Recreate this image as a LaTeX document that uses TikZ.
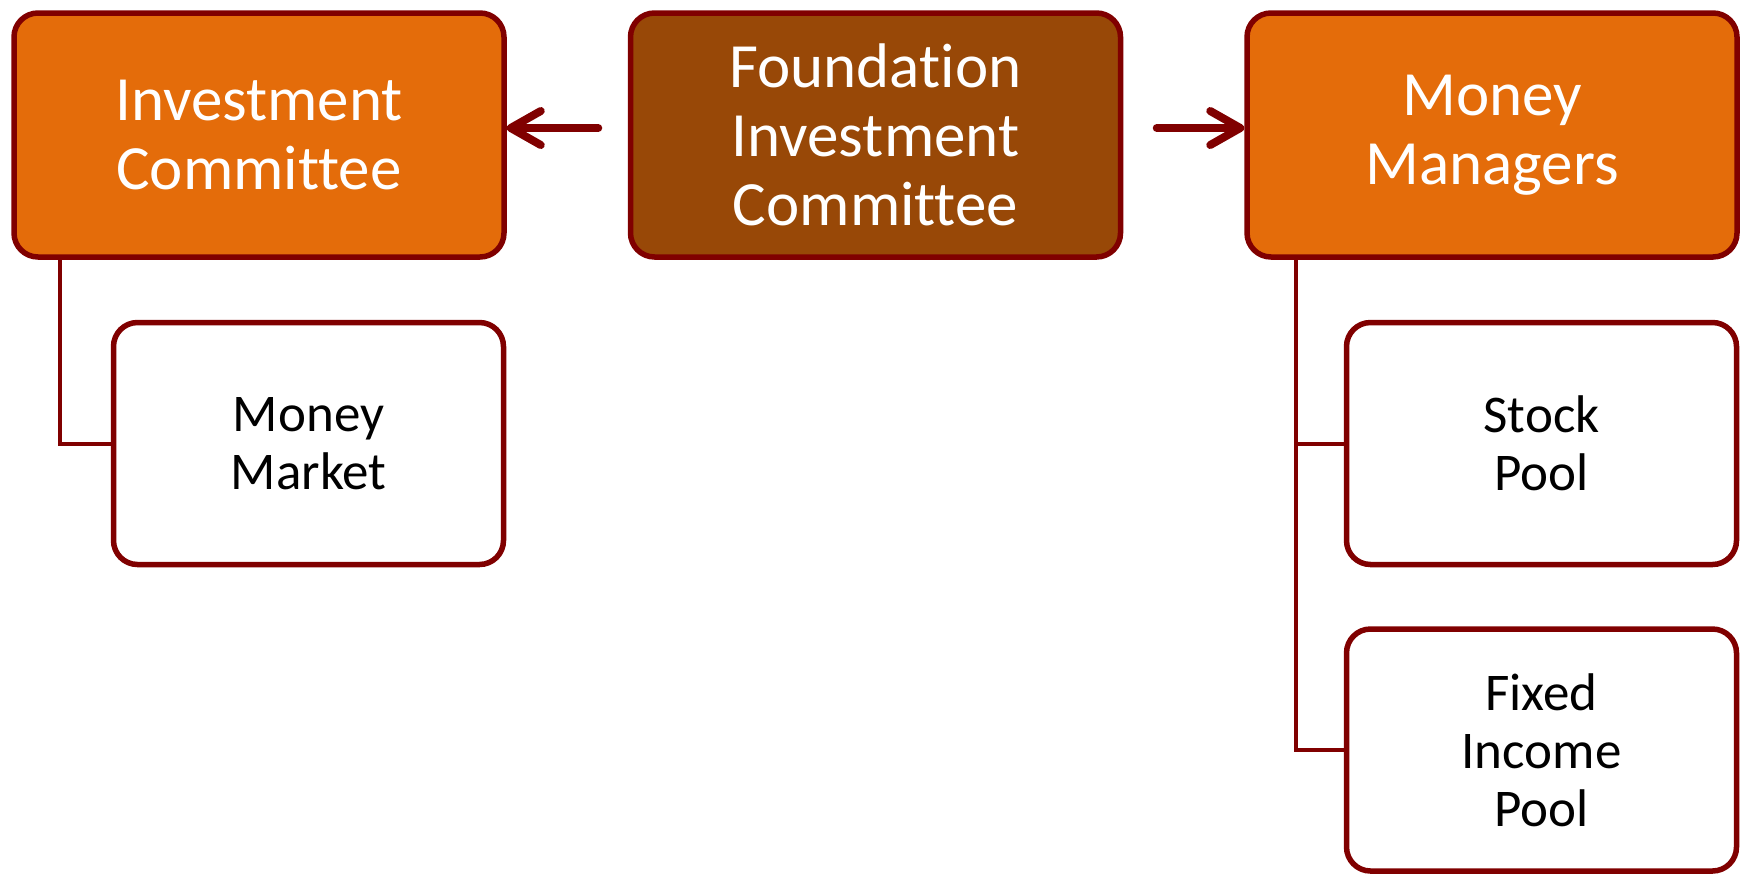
\documentclass[tikz,border=0pt]{standalone}
\usepackage{fontspec}
\setmainfont{Carlito}[Ligatures=NoCommon]
\usetikzlibrary{arrows.meta}
\definecolor{boxorange}{HTML}{E46C0A}
\definecolor{boxbrown}{HTML}{984807}
\definecolor{boxred}{HTML}{800000}

\begin{document}
\begin{tikzpicture}[x=0.5pt, y=-0.5pt, node distance={308.25pt},
  main/.style = {draw=boxred, line width=2.75pt, rounded corners=12pt, fill=boxorange, text=white, minimum width=245pt, minimum height=122pt, align=center, inner sep=0pt, font=\fontsize{31.5}{34.5}\selectfont},
  head/.style = {main, fill=boxbrown},
  kid/.style = {draw=boxred, line width=2.75pt, rounded corners=12pt, fill=white, minimum width=195pt, minimum height=121pt, align=center, inner sep=0pt, font=\fontsize{26.5}{29}\selectfont},
  link/.style = {draw=boxred, line width=2pt},
  arr/.style = {draw=boxred, line width=4pt, line cap=round, -{Straight Barb[length=15pt, width=17pt, round]}}]
                \useasboundingbox (0,0) rectangle (1744,874);
                \node[main] (ic) at (259,135) {Investment\\Committee};
                \node[head] (fic) [right of=ic] {Foundation\\Investment\\Committee};
                \node[main] (mm) [right of=fic] {Money\\Managers};
                \node[kid] (c0) at (308.5,443.5) {Money\\Market};
                \node[kid] (c1) at (1541.5,443.5) {Stock\\Pool};
                \node[kid] (c2) [below of=c1, node distance=153.25pt] {Fixed\\Income\\Pool};
                \draw[arr, shorten <=14.75pt] ([yshift=3.5pt]fic.west) -- ([yshift=3.5pt]ic.east);
                \draw[arr, shorten <=16.75pt] ([yshift=3.5pt]fic.east) -- ([yshift=3.5pt]mm.west);
                \draw[link] ([xshift=24.5pt]ic.south west) |- (c0.west);
                \draw[link] ([xshift=26pt]mm.south west) |- (c1.west);
                \draw[link] ([xshift=26pt]mm.south west) |- (c2.west);
            \end{tikzpicture}
\end{document}
